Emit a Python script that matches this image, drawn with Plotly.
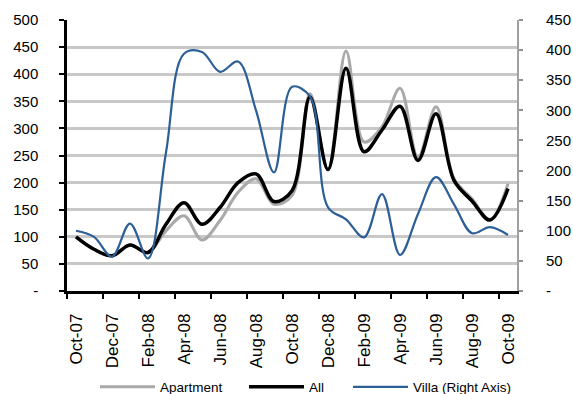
import plotly.graph_objects as go

# Monthly index series, Oct-07 .. Oct-09
months = ["Oct-07", "Nov-07", "Dec-07", "Jan-08", "Feb-08", "Mar-08", "Apr-08",
          "May-08", "Jun-08", "Jul-08", "Aug-08", "Sep-08", "Oct-08", "Nov-08",
          "Dec-08", "Jan-09", "Feb-09", "Mar-09", "Apr-09", "May-09", "Jun-09",
          "Jul-09", "Aug-09", "Sep-09", "Oct-09"]
apartment = [100, 77, 65, 85, 71, 111, 139, 94, 130, 182, 207, 160, 176,
             364, 224, 443, 275, 303, 374, 246, 340, 207, 170, 132, 198]
all_units = [100, 77, 65, 85, 71, 123, 163, 123, 154, 200, 216, 165, 185,
             358, 224, 411, 257, 297, 341, 241, 327, 204, 166, 131, 189]
villa = [100, 90, 57, 112, 54, 230, 394, 397, 364, 381, 300, 197, 339,
         323, 139, 119, 89, 161, 60, 128, 189, 144, 96, 106, 93]

tick_labels = months[::2]
left_ticks = list(range(0, 501, 50))
right_ticks = list(range(0, 451, 50))

x = list(range(len(months)))
FONT = "Liberation Sans, Arial, sans-serif"
W, H = 573, 394

fig = go.Figure()
fig.add_trace(go.Scatter(x=x, y=apartment, name="Apartment", mode="lines", legend="legend",
                         line=dict(color="#a9a9a9", width=3, shape="spline", smoothing=1.0)))
fig.add_trace(go.Scatter(x=x, y=all_units, name="All", mode="lines", legend="legend2",
                         line=dict(color="#000000", width=3.5, shape="spline", smoothing=1.0)))
fig.add_trace(go.Scatter(x=x, y=villa, name="Villa (Right Axis)", mode="lines", yaxis="y2",
                         legend="legend3",
                         line=dict(color="#2d5f97", width=2.2, shape="spline", smoothing=1.0)))


def legend_at(px):
    # one-entry legend placed along the bottom row
    return dict(orientation="h", xref="container", yref="container",
                x=px / W, xanchor="left", y=7 / H, yanchor="middle",
                font=dict(size=13.5), itemwidth=55, bgcolor="rgba(0,0,0,0)")


fig.update_layout(
    width=W, height=H,
    margin=dict(l=67, r=56, t=20, b=103, autoexpand=False),
    paper_bgcolor="white", plot_bgcolor="white",
    font=dict(family=FONT, size=14, color="#000000"),
    showlegend=True,
    legend=legend_at(95),
    legend2=legend_at(244),
    legend3=legend_at(348),
    xaxis=dict(
        range=[-0.5, len(months) - 0.5],
        # labels sit in the middle of every other month ...
        tickmode="array",
        tickvals=x[::2],
        ticktext=tick_labels,
        tickangle=-90,
        ticks="outside", ticklen=5, tickwidth=2, tickcolor="rgba(0,0,0,0)",
        # ... while the tick marks fall on the month boundaries
        minor=dict(tickmode="array",
                   tickvals=[i - 0.5 for i in range(0, len(months), 2)],
                   ticks="outside", ticklen=5, tickwidth=2, tickcolor="#000000",
                   showgrid=False),
        showline=True, linecolor="#000000", linewidth=2.5,
        showgrid=False, zeroline=False, automargin=False,
        ticklabelstandoff=8,
        tickfont=dict(size=17),
    ),
    yaxis=dict(
        range=[0, 500],
        tickmode="array",
        tickvals=left_ticks,
        ticktext=["-" if v == 0 else str(v) for v in left_ticks],
        ticks="outside", ticklen=5, tickwidth=2, tickcolor="#000000",
        showline=True, linecolor="#000000", linewidth=2.5,
        showgrid=True, gridcolor="#c8c8c8", gridwidth=2.5,
        zeroline=False, automargin=False,
        ticklabelstandoff=18,
        tickfont=dict(size=15),
    ),
    yaxis2=dict(
        range=[0, 450],
        overlaying="y", side="right",
        tickmode="array",
        tickvals=right_ticks,
        ticktext=["-" if v == 0 else str(v) for v in right_ticks],
        ticks="outside", ticklen=4, tickwidth=1.5, tickcolor="#909090",
        showline=True, linecolor="#a0a0a0", linewidth=2,
        showgrid=False, zeroline=False, automargin=False,
        ticklabelstandoff=20,
        tickfont=dict(size=15),
    ),
)

fig.write_html("out.html")
